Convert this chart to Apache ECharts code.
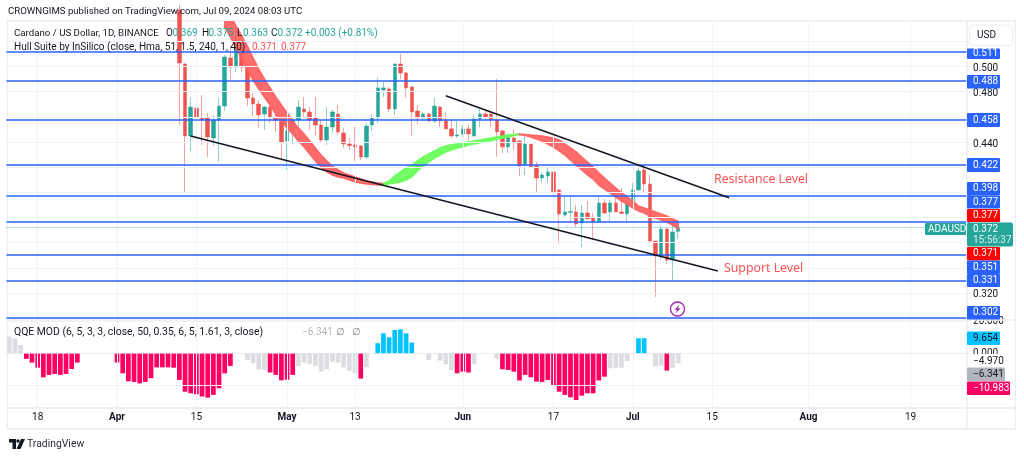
<!DOCTYPE html>
<html><head><meta charset="utf-8">
<style>html,body{margin:0;padding:0;background:#fff}#c{width:1024px;height:458px}</style>
<script src="https://cdn.jsdelivr.net/npm/echarts@6/dist/echarts.min.js"></script>
</head><body><div id="c"></div>
<script>
// ---------- values ----------
const tickDates=['2024-03-18','2024-04-01','2024-04-15','2024-05-01','2024-05-13','2024-06-01','2024-06-17','2024-07-01','2024-07-15','2024-08-01','2024-08-19'];
const tickTexts=['18','Apr','15','May','13','Jun','17','Jul','15','Aug','19'];
const priceTicks=[0.5,0.48,0.44,0.32];
const priceGrid=[0.52,0.5,0.48,0.46,0.44,0.42,0.4,0.38,0.36,0.34,0.32,0.3];
const levels=[0.5118,0.4885,0.4579,0.4221,0.3973,0.3764,0.3502,0.3301,0.3006];
const lastClose=0.372;
const candleStart=30;
const open=[.5450,.5020,.4448,.4670,.4591,.4591,.4432,.4575,.4686,.5068,.4997,.5140,.4997,.4750,.4702,.4623,.4678,.4591,.4575,.4408,.4496,.4575,.4663,.4639,.4591,.4535,.4416,.4519,.4623,.4472,.4384,.4377,.4369,.4281,.4535,.4591,.4814,.4822,.4663,.5020,.4949,.4838,.4647,.4591,.4623,.4567,.4678,.4575,.4504,.4448,.4464,.4504,.4448,.4583,.4623,.4623,.4575,.4488,.4361,.4432,.4408,.4218,.4384,.4210,.4114,.4130,.4162,.4019,.3820,.3840,.3844,.3756,.3836,.3796,.3764,.3915,.3844,.3915,.3844,.3828,.3915,.4019,.4178,.4066,.3613,.3494,.3708,.3462,.369];
const close=[.5028,.4448,.4678,.4599,.4575,.4440,.4575,.4686,.5076,.4997,.5211,.4997,.4750,.4702,.4615,.4678,.4591,.4571,.4400,.4488,.4575,.4678,.4639,.4575,.4535,.4416,.4519,.4639,.4480,.4384,.4372,.4361,.4281,.4527,.4591,.4830,.4830,.4663,.5020,.4949,.4830,.4639,.4591,.4623,.4567,.4686,.4567,.4504,.4448,.4456,.4504,.4464,.4583,.4623,.4599,.4575,.4480,.4361,.4440,.4400,.4210,.4384,.4202,.4114,.4138,.4162,.3995,.3828,.3844,.3848,.3748,.3836,.3788,.3764,.3915,.3836,.3915,.3844,.3832,.3915,.4019,.4170,.4066,.3613,.3494,.3708,.3462,.3685,.372];
const low=[.4535,.4003,.4329,.4369,.4377,.4281,.4369,.4241,.4647,.4901,.4957,.4957,.4686,.4607,.4512,.4496,.4551,.4480,.4273,.4178,.4384,.4496,.4591,.4496,.4456,.4392,.4377,.4472,.4456,.4353,.4337,.4249,.4257,.4265,.4488,.4551,.4758,.4639,.4615,.4901,.4750,.4448,.4543,.4575,.4559,.4551,.4519,.4504,.4432,.4432,.4440,.4408,.4440,.4519,.4575,.4519,.4281,.4313,.4313,.4337,.4130,.4138,.4194,.4003,.4075,.4075,.3907,.3589,.3796,.3764,.3725,.3558,.3788,.3621,.3764,.3828,.3764,.3844,.3828,.3772,.3899,.4011,.3995,.3605,.3168,.3462,.3430,.3303,.363];
const high=[.5489,.5028,.4750,.4957,.4774,.4631,.4615,.4750,.5092,.5172,.5251,.5195,.5028,.4790,.4734,.4686,.4686,.4631,.4591,.4512,.4599,.4734,.4758,.4678,.4758,.4575,.4678,.4655,.4694,.4512,.4432,.4519,.4377,.4551,.4623,.4909,.4877,.4838,.5028,.5100,.4957,.4846,.4694,.4639,.4631,.4750,.4686,.4639,.4575,.4567,.4535,.4535,.4623,.4663,.4655,.4631,.4901,.4496,.4472,.4504,.4416,.4448,.4384,.4241,.4162,.4194,.4209,.4019,.3963,.3963,.3899,.3899,.3931,.3836,.3963,.3947,.3939,.3963,.4034,.3939,.4074,.4217,.4225,.4138,.3613,.3732,.3716,.3796,.375];
const hullStart=38;
const hullUpper=[.5489,.5410,.5322,.5243,.5163,.5068,.4980,.4901,.4830,.4758,.4694,.4631,.4567,.4512,.4464,.4408,.4353,.4297,.4249,.4209,.4178,.4154,.4138,.4122,.4106,.4090,.4082,.4074,.4070,.4090,.4130,.4162,.4193,.4217,.4249,.4281,.4305,.4329,.4353,.4369,.4377,.4384,.4392,.4400,.4408,.4416,.4424,.4432,.4440,.4448,.4456,.4460,.4464,.4460,.4456,.4452,.4448,.4440,.4432,.4416,.4384,.4353,.4321,.4281,.4241,.4202,.4154,.4114,.4074,.4034,.3995,.3963,.3931,.3891,.3875,.3860,.3844,.3828,.3812,.3788,.377];
const hullLower=[.5314,.5235,.5148,.5060,.4973,.4893,.4822,.4758,.4694,.4623,.4559,.4512,.4464,.4408,.4361,.4305,.4249,.4202,.4162,.4138,.4122,.4114,.4098,.4082,.4074,.4066,.4062,.4058,.4062,.4066,.4074,.4082,.4098,.4122,.4170,.4209,.4241,.4273,.4297,.4321,.4337,.4353,.4361,.4377,.4384,.4392,.4408,.4408,.4424,.4432,.4440,.4452,.4460,.4452,.4440,.4424,.4408,.4384,.4361,.4329,.4297,.4257,.4217,.4178,.4138,.4106,.4058,.4026,.3995,.3963,.3931,.3907,.3875,.3852,.3836,.3812,.3796,.3780,.3764,.3740,.371];
const hullRuns=[[38,66,'r'],[66,90,'g'],[90,118,'r']];
const lowerTrend=[[32,.4448],[125,.3375]];
const upperTrend=[[77,.4768],[127,.3957]];
const qqe=[10.4,9.4,5.2,-3.5,-5.8,-9,-15,-13.5,-12.9,-13.5,-12.9,-9.8,-5.8,null,null,null,null,null,null,-5.8,-12.5,-17.5,-17.9,-18.8,-17.9,-15.6,-8.8,-8.8,-8.8,-9,-16.7,-24,-25,-25.6,-27,-27.7,-26,-21.9,-12.5,-7.9,null,null,-4.2,-6.3,-10,-10.4,-12,-13.5,-16.9,-16.5,-13.5,-7.9,-5.8,-6.7,-7.9,-11.5,-10,-5.2,-5.8,-8.8,-11,-12.5,-15.8,-8.8,null,6.3,12.5,10,14.6,15,12.5,6.7,null,null,-4.2,null,-4.6,-6.9,-10.4,-12.5,-11.5,-12,-6.9,null,null,null,-3.5,-10,-10.4,-11.5,-17,-13.5,-15,-17.7,-17.9,-16.7,-19.8,-24,-26,-27.5,-29.2,-26.5,-25,-25,-17,-14.6,-9.4,-9,-9,-4.8,null,9.4,9.4,null,-8.3,-7.7,-10.8,-9,-6.3];
const qqeKinds='ggg'+'pppppppppp'+'------'+'ppppppppppppppppppppp'+'--'+'gggg'+'ppppp'+'ggggggggggg'+'p'+'g'+'-'+'bbbbbbb'+'--'+'g'+'-'+'ggg'+'ppp'+'g'+'---'+'g'+'ppppppppppppppppppp'+'gggg'+'-'+'bb'+'-'+'gg'+'p'+'gg';
const qqeTicks=[20,0];
const qqeGrid=[20,-20];

// ---------- styles ----------
const GREEN='#26a69a',RED='#ef5350',BLUE='#2962ff',GRID='#f0f3fa',INK='#131722';
const FONT='Roboto,"Noto Sans",sans-serif';
const hullColors={r:'#ff5f5f',g:'#66ff58'};
const kindColors={g:'#dcdde0',p:'#ff0062',b:'#00c3ff','-':'#fff'};

const dates=[];
for(let i=0;i<170;i++){const d=new Date(Date.UTC(2024,2,13+i));dates.push(d.toISOString().slice(0,10));}
const pad=Array(candleStart).fill('-');
const candles=pad.concat(open.map((o,i)=>[o,close[i],low[i],high[i]]));
const bodies=pad.concat(open.map((o,i)=>[o,close[i],Math.min(o,close[i]),Math.max(o,close[i])]));
const qqeData=qqe.map((v,i)=>v===null?'-':{value:v,itemStyle:{color:kindColors[qqeKinds[i]]}});

function T(x,y,text,o){return {type:'text',x,y,z:50,style:Object.assign({text,fill:INK,font:'10px '+FONT,textVerticalAlign:'middle'},o||{})};}
function tag(x,y,w,h,fill,text,tc,r){return [
 {type:'rect',x,y,z:48,shape:{width:w,height:h,r:r||1},style:{fill}},
 T(x+6,y+h/2,text,{fill:tc||'#fff'})];}

const gfx=[
 // frame
 {type:'rect',z:1,shape:{x:7.5,y:21,width:1008,height:408},style:{fill:'none',stroke:'#eceef3',lineWidth:1.5}},
 {type:'line',z:47,shape:{x1:967,y1:21,x2:967,y2:429},style:{stroke:'#eceef3',lineWidth:1.5}},
 {type:'line',z:47,shape:{x1:8,y1:320,x2:1015,y2:320},style:{stroke:'#eceef3',lineWidth:1.5}},
 {type:'line',z:47,shape:{x1:8,y1:408,x2:1015,y2:408},style:{stroke:'#eceef3',lineWidth:2}},
 {type:'rect',z:46,shape:{x:968,y:354,width:40,height:2.5},style:{fill:'#fff'}},
 // header + legends
 T(8,12,'CROWNGIMS published on TradingView.com, Jul 09, 2024 08:03 UTC',{font:'9.65px '+FONT}),
 T(14,33.5,'Cardano / US Dollar, 1D, BINANCE',{font:'9.7px '+FONT}),
 T(166,33.5,'O'),T(172.5,33.5,'0.369',{fill:GREEN}),
 T(202,33.5,'H'),T(208.5,33.5,'0.375',{fill:GREEN}),
 T(237,33.5,'L'),T(243,33.5,'0.363',{fill:GREEN}),
 T(271,33.5,'C'),T(277.5,33.5,'0.372',{fill:GREEN}),
 T(305,33.5,'+0.003 (+0.81%)',{fill:GREEN}),
 T(14,47,'Hull Suite by InSilico (close, Hma, 51, 1.5, 240, 1, 40)',{font:'10.05px '+FONT}),
 T(252,47,'0.371',{fill:'#ff5252'}),T(281,47,'0.377',{fill:'#ff5252'}),
 T(14,332,'QQE MOD (6, 5, 3, 3, close, 50, 0.35, 6, 5, 1.61, 3, close)',{font:'10.4px '+FONT}),
 T(302,332,'\u22126.341',{fill:'#b2b5be'}),
 T(336,332,'\u2205',{fill:'#787b86'}),T(352,332,'\u2205',{fill:'#787b86'}),
 T(973,361,'\u22124.970'),
 // annotations
 T(714,179,'Resistance Level',{fill:'#ff5252',font:'12.3px "Noto Sans",sans-serif'}),
 T(724,268,'Support Level',{fill:'#ff5252',font:'12.3px "Noto Sans",sans-serif'}),
 // event icon
 {type:'circle',z:49,shape:{cx:677.5,cy:309,r:7},style:{fill:'#fff',stroke:'#9c27b0',lineWidth:1.3}},
 {type:'polygon',z:50,shape:{points:[[679.5,304.5],[674.5,309.8],[677.2,309.8],[675.5,313.5],[680.5,308.2],[677.8,308.2]]},style:{fill:'#9c27b0'}},
 // USD button
 {type:'rect',z:49,shape:{x:969.5,y:25,width:43,height:20.5,r:3},style:{fill:'#fff',stroke:'#eceef3',lineWidth:1}},
 T(977,35,'USD'),
 // logo
 {type:'polygon',z:50,shape:{points:[[9,439],[16,439],[16,449],[12.5,449],[12.5,442.5],[9,442.5]]},style:{fill:INK}},
 {type:'circle',z:50,shape:{cx:18,cy:441,r:1.7},style:{fill:INK}},
 {type:'polygon',z:50,shape:{points:[[21,439],[25,439],[20.5,449],[16.5,449]]},style:{fill:INK}},
 T(27,444,'TradingView',{font:'10.4px '+FONT,fill:'#2a2e39'}),
 ...tag(967,48.5,33,10.5,BLUE,'0.511'),
 ...tag(967,75,33,13.5,BLUE,'0.488'),
 ...tag(967,113,33,14,BLUE,'0.458'),
 ...tag(967,158,33,14,BLUE,'0.422'),
 ...tag(967,182,33,13.5,BLUE,'0.398'),
 ...tag(967,195.5,33,13,BLUE,'0.377'),
 ...tag(967,209,33,13,'#ff0000','0.377'),
 {type:'rect',z:48,shape:{x:925,y:223,width:41,height:12,r:1},style:{fill:GREEN}},
 T(928,229,'ADAUSD',{fill:'#fff'}),
 {type:'rect',z:48,shape:{x:967,y:222.5,width:46,height:24,r:2},style:{fill:GREEN}},
 T(973,229,'0.372',{fill:'#fff'}),T(973,240.5,'15:56:37',{fill:'#d8f0ed'}),
 ...tag(967,247,33,13.5,'#ff0000','0.371'),
 ...tag(967,260.5,33,13.5,BLUE,'0.351'),
 ...tag(967,274,33,13,BLUE,'0.331'),
 ...tag(967,306,33,13.5,BLUE,'0.302'),
 ...tag(967,331.5,33,13.5,'#00c3ff','9.654',INK),
 ...tag(967,367.5,38,13.5,'#b2b5be','\u22126.341',INK),
 ...tag(967,381.5,43,13.5,'#ff0062','\u221210.983')
];

const noMark={symbol:'none',silent:true,animation:false,precision:4,label:{show:false}};
const grids=(ys)=>ys.map(v=>({yAxis:v}));
const verts=tickDates.map(d=>({xAxis:d}));

const option={
 animation:false,
 backgroundColor:'#fff',
 grid:[
  {left:6.5,top:21,width:963.56,height:299,containLabel:false},
  {left:6.5,top:320,width:963.56,height:88,containLabel:false}
 ],
 xAxis:[
  {type:'category',gridIndex:0,data:dates,boundaryGap:true,axisLine:{show:false},axisTick:{show:false},axisLabel:{show:false},splitLine:{show:false}},
  {type:'category',gridIndex:1,data:dates,boundaryGap:true,axisLine:{show:false},axisTick:{show:false},splitLine:{show:false},
   axisLabel:{show:true,margin:4,color:INK,fontFamily:FONT,fontSize:10,hideOverlap:false,
    interval:(i,v)=>tickDates.includes(v),
    formatter:v=>{const t=tickTexts[tickDates.indexOf(v)];return /[A-Za-z]/.test(t)?'{b|'+t+'}':t;},
    rich:{b:{fontWeight:'bold',fontSize:10,fontFamily:FONT,color:INK}}}}
 ],
 yAxis:[
  {type:'value',gridIndex:0,position:'right',min:0.2985,max:0.5362,scale:true,axisLine:{show:false},axisTick:{show:false},splitLine:{show:false},
   axisLabel:{show:true,customValues:priceTicks,margin:3,color:INK,fontFamily:FONT,fontSize:10,formatter:v=>'{a|'+v.toFixed(3)+'}',
    rich:{a:{color:INK,fontFamily:FONT,fontSize:10,padding:[4,0,0,0]}}}},
  {type:'value',gridIndex:1,position:'right',min:-34.19,max:20.81,axisLine:{show:false},axisTick:{show:false},splitLine:{show:false},
   axisLabel:{show:true,customValues:qqeTicks,margin:3,color:INK,fontFamily:FONT,fontSize:10,
    formatter:v=>(v<0?'\u2212':'')+Math.abs(v).toFixed(3)}}
 ],
 series:[
  {name:'gridMain',type:'line',xAxisIndex:0,yAxisIndex:0,data:[],z:1,
   markLine:Object.assign({},noMark,{lineStyle:{color:GRID,width:1,type:'solid'},data:[...verts,...grids(priceGrid)]})},
  {name:'gridQqe',type:'line',xAxisIndex:1,yAxisIndex:1,data:[],z:1,
   markLine:Object.assign({},noMark,{lineStyle:{color:GRID,width:1,type:'solid'},data:[...verts,...grids(qqeGrid),{yAxis:0,lineStyle:{color:'#d9dbe2',type:'dotted'}}]})},
  {name:'wicks',type:'candlestick',xAxisIndex:0,yAxisIndex:0,data:candles,barWidth:1,z:2,
   itemStyle:{color:'#8fd0c9',color0:'#f6a3a1',borderColor:'#8fd0c9',borderColor0:'#f6a3a1',borderWidth:1}},
  {name:'bodies',type:'candlestick',xAxisIndex:0,yAxisIndex:0,data:bodies,barWidth:4,z:3,
   itemStyle:{color:GREEN,color0:RED,borderColor:GREEN,borderColor0:RED,borderWidth:0.5}},
  {name:'hull',type:'custom',xAxisIndex:0,yAxisIndex:0,clip:true,z:4,
   data:hullRuns.map(r=>[r[0],r[1]]),
   renderItem:(p,api)=>{
    const r=hullRuns[p.dataIndex],pts=[];
    for(let i=r[0];i<=r[1];i++)pts.push(api.coord([i,hullUpper[i-hullStart]]));
    for(let i=r[1];i>=r[0];i--)pts.push(api.coord([i,hullLower[i-hullStart]]));
    return {type:'polygon',shape:{points:pts},style:{fill:hullColors[r[2]],stroke:hullColors[r[2]],lineWidth:1.6,opacity:.92}};
   }},
  {name:'levels',type:'line',xAxisIndex:0,yAxisIndex:0,data:[],z:5,
   markLine:Object.assign({},noMark,{z:5,lineStyle:{color:BLUE,width:1.6,type:'solid'},data:[...grids(levels)]})},
  {name:'last',type:'line',xAxisIndex:0,yAxisIndex:0,data:[],z:5,
   markLine:Object.assign({},noMark,{lineStyle:{color:GREEN,width:1,type:'dotted',opacity:.7},data:[{yAxis:lastClose}]})},
  {name:'lowerTrend',type:'line',xAxisIndex:0,yAxisIndex:0,data:lowerTrend,showSymbol:false,symbol:'none',z:6,lineStyle:{color:'#131722',width:1.6}},
  {name:'upperTrend',type:'line',xAxisIndex:0,yAxisIndex:0,data:upperTrend,showSymbol:false,symbol:'none',z:6,lineStyle:{color:'#131722',width:1.6}},
  {name:'qqe',type:'bar',xAxisIndex:1,yAxisIndex:1,data:qqeData,barWidth:4.7,z:3}
 ],
 graphic:{elements:gfx}
};
const chart=echarts.init(document.getElementById('c'),null,{renderer:'canvas'});
chart.setOption(option);
</script></body></html>
